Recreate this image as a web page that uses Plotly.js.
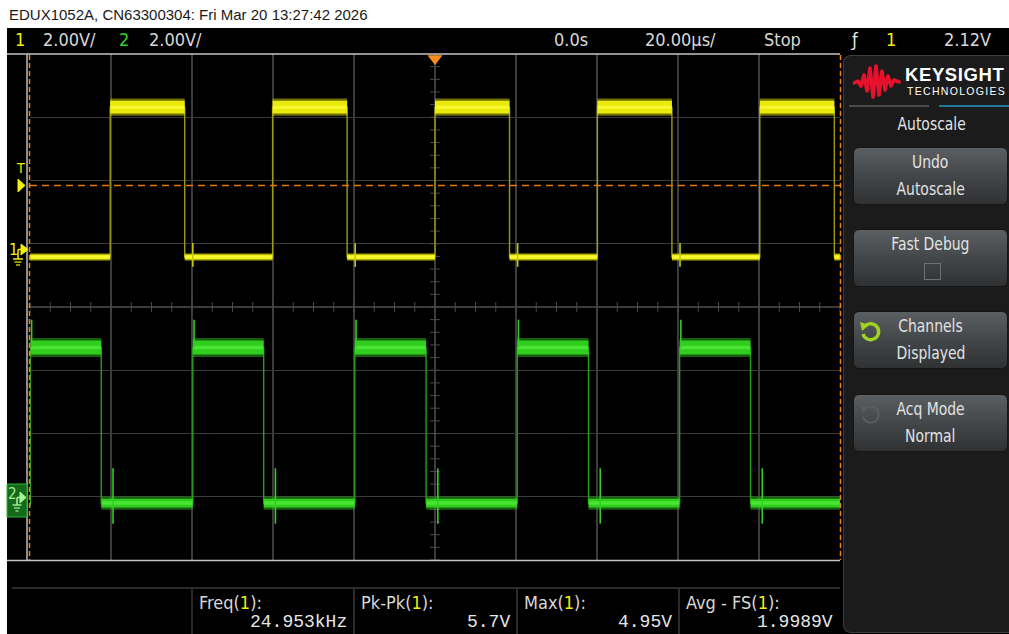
<!DOCTYPE html>
<html><head><meta charset="utf-8">
<script src="https://cdn.plot.ly/plotly-3.0.1.min.js"></script>
<style>
html,body{margin:0;padding:0;background:#fff;width:1009px;height:634px;overflow:hidden;}
#wrap{position:relative;width:1009px;height:634px;}
#plot{position:absolute;left:0;top:0;width:1009px;height:634px;}
#panel{position:absolute;left:843px;top:55px;width:166px;height:578px;background:#1b1b1b;border:1px solid #3c3c3c;border-right:none;border-radius:8px 0 0 8px;box-sizing:border-box;font-family:"Liberation Sans Narrow","DejaVu Sans Condensed","Liberation Sans",sans-serif;color:#e2e2e2;}
.btn{position:absolute;left:9px;width:155px;height:58px;border-radius:6px;background:linear-gradient(#5c5f62,#46494b 45%,#2f3133);border:1px solid #161616;box-sizing:border-box;text-align:center;font-size:18px;line-height:27px;}
.btn div{white-space:nowrap;}
.nar{display:inline-block;transform:scaleX(0.86);transform-origin:center;}
#logoTxt{position:absolute;left:61px;top:8px;font-family:"Liberation Sans","Arial",sans-serif;font-weight:bold;font-size:18.5px;letter-spacing:0.6px;color:#fff;}
#logoSub{position:absolute;left:63px;top:29px;font-family:"Liberation Sans","Arial",sans-serif;font-size:10.5px;letter-spacing:1.3px;color:#fff;}
#autos{position:absolute;left:0;width:176px;top:57px;text-align:center;font-size:18px;color:#e2e2e2;}
</style>
</head><body>
<div id="wrap">
<div id="plot"></div>
<div id="panel">
  <svg style="position:absolute;left:9px;top:6px" width="48" height="40" viewBox="0 0 48 40">
    <polyline points="1,21 5,19 8,24 11,13 14,29 17,6 20,35 23,4 26,33 29,9 32,28 35,14 38,24 41,18 46,20" fill="none" stroke="#e8112d" stroke-width="3.6" stroke-linejoin="round" stroke-linecap="round"/>
  </svg>
  <div id="logoTxt">KEYSIGHT</div>
  <div id="logoSub">TECHNOLOGIES</div>
  <div style="position:absolute;left:5px;top:49px;width:80px;height:2px;background:#4a4a4a"></div>
  <div style="position:absolute;left:95px;top:49px;width:71px;height:2px;background:#1f7a98"></div>
  <div id="autos"><span class="nar">Autoscale</span></div>
  <div class="btn" style="top:91px"><div><span class="nar">Undo</span></div><div><span class="nar">Autoscale</span></div></div>
  <div class="btn" style="top:173px"><div><span class="nar">Fast Debug</span></div>
    <div style="position:absolute;left:70px;top:33px;width:17px;height:17px;border:1px solid #707070;box-sizing:border-box"></div></div>
  <div class="btn" style="top:255px">
    <svg style="position:absolute;left:4px;top:7px" width="26" height="24" viewBox="0 0 26 24">
      <path d="M 7 7 A 8 8 0 1 1 5 15" fill="none" stroke="#9fd322" stroke-width="3.4"/>
      <polygon points="2,3 11,6 4,12" fill="#9fd322"/>
    </svg>
    <div><span class="nar">Channels</span></div><div><span class="nar">Displayed</span></div></div>
  <div class="btn" style="top:338px">
    <svg style="position:absolute;left:4px;top:7px" width="26" height="24" viewBox="0 0 26 24">
      <path d="M 7 7 A 8 8 0 1 1 5 15" fill="none" stroke="#5a5c5e" stroke-width="2"/>
      <polygon points="3,4 10,6 5,11" fill="#5a5c5e"/>
    </svg>
    <div><span class="nar">Acq Mode</span></div><div><span class="nar">Normal</span></div></div>
</div>
</div>
<script>
// ---------------- data ----------------
// time in microseconds (20 us/div, 0 at trigger), voltage in volts (2 V/div)
const ch1Rises = [-80.2, -40.1, 0.0, 40.1, 80.2];
const ch1Falls = [-61.8, -21.7, 18.4, 58.5, 98.6];
const ch1High = 4.60, ch1Low = -0.14;
const ch1SpikeT = [-59.8, -19.7, 20.4, 60.5];
const ch1SpikeLo = -0.45, ch1SpikeHi = 0.3;

const ch2Rises = [-99.9, -59.8, -19.8, 20.3, 60.4];
const ch2Falls = [-82.4, -42.3, -2.2, 37.9, 77.9];
const ch2High = 4.72, ch2Low = -0.20;
const ch2RingT = [-79.5, -39.4, 0.7, 40.8, 80.8];
const ch2RingLo = -0.85, ch2RingHi = 0.9;
const ch2OverT = [-99.6, -59.5, -19.5, 20.6, 60.7];
const ch2OverHi = 5.6;

const voltsPerDiv = 2.0;
const ch1OffsetDiv = 0.86;   // ground reference of channel 1 (divisions)
const ch2OffsetDiv = -3.0;   // ground reference of channel 2 (divisions)
const trigLevel = 2.12;      // V on channel 1

const statusTexts = {ch1Scale:"2.00V/", ch2Scale:"2.00V/", delay:"0.0s", timebase:"20.00µs/", run:"Stop", trigLevel:"2.12V"};
const measLabels = ["Freq", "Pk-Pk", "Max", "Avg - FS"];
const measValues = ["24.953kHz", "5.7V", "4.95V", "1.9989V"];
const titleText = "EDUX1052A, CN63300304: Fri Mar 20 13:27:42 2026";

// ---------------- helpers ----------------
const L = 30, T = 54, W = 810, H = 506;
const X = px => (px - L) / W;
const Y = py => 1 - (py - T) / H;
const div = (v, off) => v / voltsPerDiv + off;

function square(rises, falls, hi, lo, t0, t1) {
  const ev = rises.map(t => ({t, lvl: hi})).concat(falls.map(t => ({t, lvl: lo}))).sort((a, b) => a.t - b.t);
  let cur = ev[0].lvl === hi ? lo : hi;
  const x = [t0], y = [cur], segs = [];
  let s = t0;
  ev.forEach(e => { x.push(e.t, e.t); y.push(cur, e.lvl); segs.push({a: s, b: e.t, lvl: cur}); cur = e.lvl; s = e.t; });
  x.push(t1); y.push(cur); segs.push({a: s, b: t1, lvl: cur});
  return {x, y, segs};
}
function bandTrace(segs, hi, hwHi, hwLo, off, color) {
  const x = [], y = [];
  segs.forEach(g => {
    const hw = g.lvl === hi ? hwHi : hwLo;
    x.push(g.a, g.b, g.b, g.a, g.a, null);
    y.push(div(g.lvl + hw, off), div(g.lvl + hw, off), div(g.lvl - hw, off), div(g.lvl - hw, off), div(g.lvl + hw, off), null);
  });
  return {type: 'scatter', mode: 'lines', x, y, fill: 'toself', fillcolor: color, line: {width: 0}, hoverinfo: 'skip', showlegend: false};
}
function coreTrace(segs, off, color, w) {
  const x = [], y = [];
  segs.forEach(g => { x.push(g.a + 0.15, g.b - 0.15, null); y.push(div(g.lvl, off), div(g.lvl, off), null); });
  return {type: 'scatter', mode: 'lines', x, y, line: {color, width: w}, hoverinfo: 'skip', showlegend: false};
}
function spikeTrace(ts, lo, hi, off, color) {
  const x = [], y = [];
  ts.forEach(t => { x.push(t, t, null); y.push(div(lo, off), div(hi, off), null); });
  return {type: 'scatter', mode: 'lines', x, y, line: {color, width: 1.6}, hoverinfo: 'skip', showlegend: false};
}

const w1 = square(ch1Rises, ch1Falls, ch1High, ch1Low, -100, 100);
const w2 = square(ch2Rises, ch2Falls, ch2High, ch2Low, -100, 100);

// center-line sub-division ticks
const hTickX = [], hTickY = [], vTickX = [], vTickY = [];
for (let k = -20; k <= 20; k++) { hTickX.push(k * 5); hTickY.push(0); }
for (let k = -20; k <= 20; k++) { vTickX.push(0); vTickY.push(k * 0.2); }

const trigDiv = div(trigLevel, ch1OffsetDiv);

const traces = [
  {type: 'scatter', mode: 'markers', x: hTickX, y: hTickY, marker: {symbol: 'line-ns', size: 7, line: {color: '#4a4a4a', width: 1}}, hoverinfo: 'skip', showlegend: false},
  {type: 'scatter', mode: 'markers', x: vTickX, y: vTickY, marker: {symbol: 'line-ew', size: 7, line: {color: '#4a4a4a', width: 1}}, hoverinfo: 'skip', showlegend: false},
  // channel 2 (green)
  {type: 'scatter', mode: 'lines', x: w2.x, y: w2.y.map(v => div(v, ch2OffsetDiv)), line: {color: '#23a017', width: 1.4}, hoverinfo: 'skip', showlegend: false},
  bandTrace(w2.segs, ch2High, 0.30, 0.21, ch2OffsetDiv, 'rgba(40,170,25,0.55)'),
  bandTrace(w2.segs, ch2High, 0.22, 0.14, ch2OffsetDiv, 'rgba(50,210,32,0.95)'),
  coreTrace(w2.segs, ch2OffsetDiv, '#48e535', 3.5),
  spikeTrace(ch2RingT, ch2RingLo, ch2RingHi, ch2OffsetDiv, '#2fd020'),
  spikeTrace(ch2OverT, ch2High, ch2OverHi, ch2OffsetDiv, '#2fd020'),
  // channel 1 (yellow)
  {type: 'scatter', mode: 'lines', x: w1.x, y: w1.y.map(v => div(v, ch1OffsetDiv)), line: {color: '#9a9a14', width: 1.4}, hoverinfo: 'skip', showlegend: false},
  bandTrace(w1.segs, ch1High, 0.27, 0.12, ch1OffsetDiv, 'rgba(200,200,0,0.55)'),
  bandTrace(w1.segs, ch1High, 0.2, 0.08, ch1OffsetDiv, 'rgba(238,238,10,0.97)'),
  coreTrace(w1.segs, ch1OffsetDiv, '#f8f830', 3),
  spikeTrace(ch1SpikeT, ch1SpikeLo, ch1SpikeHi, ch1OffsetDiv, '#c8c800'),
  // trigger level
  {type: 'scatter', mode: 'lines', x: [-100, 100], y: [trigDiv, trigDiv], line: {color: '#e07a10', width: 1.5, dash: '7px,5px'}, hoverinfo: 'skip', showlegend: false},
  // trigger position marker
  {type: 'scatter', mode: 'markers', x: [0], y: [3.93], marker: {symbol: 'triangle-down', size: 13, color: '#ff8c1a'}, cliponaxis: false, hoverinfo: 'skip', showlegend: false}
];

const NARROW = '"Liberation Sans Narrow", "DejaVu Sans Condensed", "DejaVu Sans", sans-serif';
const ARIAL = '"Liberation Sans", Arial, sans-serif';
const MONO = '"Liberation Mono", "DejaVu Sans Mono", monospace';
function ann(text, px, py, o) {
  o = o || {};
  return {text, x: X(px), y: Y(py), xref: 'paper', yref: 'paper', showarrow: false,
    xanchor: o.xa || 'left', yanchor: 'middle',
    font: {family: o.family || NARROW, size: o.size || 18, color: o.color || '#d8d8d8'}};
}
const Y1 = '#f2f200', G2 = '#2fd326';
const annotations = [
  ann(titleText, 7, 14, {size: 15, color: '#1a1a1a', family: ARIAL}),
  ann('1', 13, 40, {color: Y1}),
  ann(statusTexts.ch1Scale, 41, 40),
  ann('2', 117, 40, {color: G2}),
  ann(statusTexts.ch2Scale, 147, 40),
  ann(statusTexts.delay, 552, 40),
  ann(statusTexts.timebase, 643, 40),
  ann(statusTexts.run, 762, 40),
  ann('ƒ', 848, 40, {color: '#e8e8e8'}),
  ann('1', 884, 40, {color: Y1}),
  ann(statusTexts.trigLevel, 942, 40),
  ann('T', 20, 168, {xa: 'center', size: 14, color: Y1}),
  ann('1', 13, 249, {xa: 'center', size: 16, color: Y1}),
  ann('2', 12, 494, {xa: 'center', size: 15, color: '#9ff08f'})
];
const sepX = [192, 354, 517, 679];
measLabels.forEach((lab, i) => {
  annotations.push(ann(lab + '(<span style="color:' + Y1 + '">1</span>):', sepX[i] + 5, 602, {size: 18}));
  annotations.push(ann(measValues[i], (i < 3 ? sepX[i + 1] : 840) - 5, 622, {xa: 'right', family: MONO, size: 18, color: '#e6e6e6'}));
});

function ln(x0, y0, x1, y1, color, width, dash) {
  return {type: 'line', xref: 'paper', yref: 'paper', x0: X(x0), y0: Y(y0), x1: X(x1), y1: Y(y1), line: {color, width, dash: dash || 'solid'}, layer: 'above'};
}
function poly(pts, fill, lineColor) {
  const p = pts.map((q, i) => (i ? 'L' : 'M') + X(q[0]) + ',' + Y(q[1])).join(' ') + ' Z';
  return {type: 'path', xref: 'paper', yref: 'paper', path: p, fillcolor: fill, line: {color: lineColor || fill, width: 1}, layer: 'above'};
}
const shapes = [
  {type: 'rect', xref: 'paper', yref: 'paper', x0: X(7), x1: X(1009), y0: Y(28), y1: Y(634), fillcolor: '#000', line: {width: 0}, layer: 'below'},
  ln(7, 54, 840, 54, '#c4c4c4', 1.5),
  ln(7, 560.5, 840, 560.5, '#c4c4c4', 1.5),
  ln(27, 54, 27, 560.5, '#bdbdbd', 1.5),
  ln(29.5, 55, 29.5, 560, '#e8861a', 1.5, '5px,3px'),
  ln(840.5, 55, 840.5, 560, '#e8861a', 1.5, '5px,3px'),
  ln(12, 588, 840, 588, '#3a3a3a', 1.5),
  // trigger level marker
  poly([[18, 179], [25, 185.5], [18, 192]], Y1),
  // channel 1 ground marker
  poly([[21, 244], [28, 249.5], [21, 255]], Y1),
  ln(18, 249.5, 22, 249.5, Y1, 1.5),
  ln(18, 249.5, 18, 259, Y1, 1.5),
  ln(13, 259, 23, 259, Y1, 1.5),
  ln(14.5, 262, 21.5, 262, Y1, 1.2),
  ln(16, 265, 20, 265, Y1, 1.2),
  // channel 2 ground marker box
  {type: 'rect', xref: 'paper', yref: 'paper', x0: X(7), x1: X(27), y0: Y(484), y1: Y(517), fillcolor: '#16691a', line: {color: '#2db82a', width: 1}, layer: 'above'},
  poly([[20, 492], [26, 497.5], [20, 503]], '#a7f59a'),
  ln(17, 497.5, 21, 497.5, '#a7f59a', 1.5),
  ln(17, 497.5, 17, 505, '#a7f59a', 1.5),
  ln(12.5, 505, 21.5, 505, '#a7f59a', 1.4),
  ln(14, 508, 20, 508, '#a7f59a', 1.2),
  ln(15.5, 511, 18.5, 511, '#a7f59a', 1.2)
];
sepX.forEach(x => shapes.push(ln(x, 589, x, 634, '#3a3a3a', 1.5)));

const layout = {
  width: 1009, height: 634,
  margin: {l: L, r: 1009 - L - W, t: T, b: 634 - T - H, pad: 0},
  paper_bgcolor: '#ffffff', plot_bgcolor: '#000000',
  xaxis: {range: [-100, 100], tick0: 0, dtick: 20, showgrid: true, gridcolor: '#3b3b3b', gridwidth: 1.2, zeroline: false, showticklabels: false, ticks: '', showline: false, fixedrange: true},
  yaxis: {range: [-4, 4], tick0: 0, dtick: 1, showgrid: true, gridcolor: '#3b3b3b', gridwidth: 1.2, zeroline: false, showticklabels: false, ticks: '', showline: false, fixedrange: true},
  showlegend: false, hovermode: false,
  annotations, shapes
};
Plotly.newPlot('plot', traces, layout, {displayModeBar: false, staticPlot: true});
</script>
</body></html>
